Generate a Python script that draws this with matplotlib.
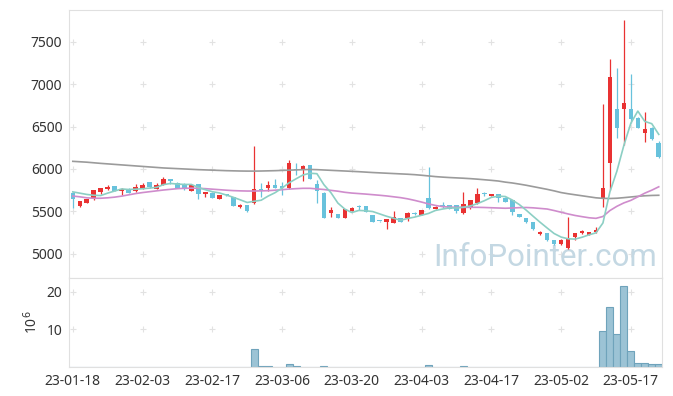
import numpy as np
import pandas as pd
import matplotlib
matplotlib.use('Agg')
import matplotlib.pyplot as plt

plt.rcParams['font.family'] = ['Noto Sans', 'DejaVu Sans']

# daily prices (index 0 = 23-01-18)
opens = [5720, 5566, 5600, 5660, 5725, 5765, 5796, 5744, 5767, 5740,
         5763, 5846, 5763, 5815, 5881, 5838, 5826, 5744, 5818, 5704,
         5720, 5649, 5695, 5669, 5555, 5574, 5595, 5755, 5778, 5810,
         5799, 5772, 5990, 5987, 6046, 5818, 5720, 5477, 5469, 5425,
         5508, 5550, 5565, 5457, 5388, 5378, 5366, 5418, 5418, 5485,
         5457, 5661, 5528, 5572, 5574, 5574, 5477, 5536, 5595, 5706,
         5685, 5700, 5661, 5633, 5469, 5418, 5371, 5229, 5241, 5162,
         5111, 5064, 5201, 5241, 5221, 5256, 5654, 6073, 6707, 6703,
         6707, 6604, 6427, 6486, 6302]
highs = [5730, 5625, 5650, 5755, 5775, 5807, 5800, 5770, 5770, 5822,
         5838, 5850, 5834, 5908, 5885, 5842, 5830, 5815, 5822, 5730,
         5725, 5692, 5700, 5672, 5582, 5578, 6270, 5838, 5862, 5878,
         5846, 6105, 6070, 6042, 6050, 5870, 5725, 5548, 5472, 5528,
         5548, 5570, 5568, 5460, 5392, 5410, 5508, 5422, 5488, 5490,
         5520, 6019, 5560, 5610, 5580, 5578, 5732, 5640, 5772, 5725,
         5708, 5705, 5665, 5640, 5472, 5422, 5375, 5265, 5245, 5168,
         5170, 5437, 5245, 5276, 5256, 5320, 6762, 7293, 7186, 7756,
         7119, 6610, 6675, 6500, 6330]
lows = [5540, 5555, 5595, 5640, 5704, 5752, 5740, 5690, 5715, 5725,
        5760, 5780, 5760, 5810, 5818, 5775, 5752, 5740, 5645, 5673,
        5655, 5645, 5680, 5560, 5540, 5489, 5590, 5665, 5744, 5775,
        5693, 5765, 5930, 5857, 5878, 5600, 5420, 5437, 5420, 5420,
        5505, 5520, 5494, 5375, 5380, 5288, 5362, 5375, 5386, 5460,
        5455, 5530, 5525, 5540, 5530, 5480, 5470, 5530, 5590, 5680,
        5680, 5614, 5610, 5457, 5430, 5365, 5285, 5222, 5155, 5100,
        5100, 5060, 5160, 5238, 5218, 5250, 5555, 5752, 6361, 6282,
        6538, 6480, 6314, 6340, 6130]
closes = [5645, 5620, 5645, 5752, 5772, 5788, 5744, 5767, 5720, 5788,
          5815, 5783, 5811, 5881, 5857, 5779, 5760, 5811, 5700, 5728,
          5661, 5689, 5688, 5566, 5578, 5504, 5760, 5750, 5810, 5779,
          5772, 6073, 5985, 6038, 5881, 5744, 5425, 5516, 5425, 5524,
          5545, 5546, 5497, 5378, 5384, 5406, 5430, 5378, 5485, 5465,
          5516, 5536, 5555, 5566, 5532, 5508, 5582, 5633, 5704, 5702,
          5704, 5653, 5614, 5497, 5437, 5371, 5292, 5260, 5162, 5111,
          5162, 5190, 5241, 5272, 5253, 5280, 5772, 7080, 6486, 6774,
          6585, 6486, 6471, 6353, 6144]
# volume in millions
volume = [0.1, 0.1, 0.1, 0.1, 0.1, 0.1, 0.1, 0.1, 0.1, 0.1,
          0.1, 0.1, 0.1, 0.1, 0.1, 0.1, 0.1, 0.1, 0.1, 0.1,
          0.1, 0.1, 0.1, 0.1, 0.1, 0.1, 4.8, 0.4, 0.4, 0.1,
          0.1, 0.7, 0.4, 0.1, 0.1, 0.1, 0.4, 0.1, 0.1, 0.1,
          0.1, 0.1, 0.1, 0.1, 0.1, 0.1, 0.1, 0.1, 0.1, 0.1,
          0.1, 0.6, 0.1, 0.1, 0.1, 0.1, 0.4, 0.1, 0.1, 0.1,
          0.1, 0.1, 0.1, 0.1, 0.1, 0.1, 0.1, 0.1, 0.1, 0.1,
          0.1, 0.1, 0.1, 0.1, 0.1, 0.1, 9.7, 16.1, 8.7, 21.5,
          4.2, 1.0, 1.2, 0.8, 0.8]

# moving averages (their history is not on the chart)
ma5_head = [5730, 5715, 5700, 5690]
ma20 = [5681, 5672, 5660, 5655, 5655, 5660, 5668, 5680, 5695, 5710,
        5722, 5732, 5742, 5752, 5760, 5768, 5772, 5774, 5772, 5768,
        5762, 5756, 5750, 5745, 5742, 5740, 5740, 5742, 5744, 5750,
        5756, 5763, 5768, 5772, 5772, 5765, 5758, 5748, 5738, 5725,
        5716, 5710, 5704, 5697, 5690, 5682, 5672, 5662, 5648, 5630,
        5610, 5588, 5570, 5556, 5550, 5548, 5548, 5548, 5548, 5546,
        5543, 5540, 5537, 5540, 5544, 5546, 5542, 5535, 5528, 5510,
        5490, 5470, 5452, 5438, 5425, 5418, 5440, 5510, 5560, 5600,
        5630, 5672, 5715, 5750, 5790]
ma120 = [6090, 6085, 6080, 6073, 6066, 6060, 6054, 6048, 6042, 6036,
         6030, 6024, 6018, 6012, 6008, 6004, 6000, 5996, 5992, 5989,
         5986, 5983, 5980, 5978, 5976, 5975, 5975, 5976, 5978, 5980,
         5983, 5986, 5989, 5992, 5994, 5992, 5988, 5984, 5980, 5976,
         5972, 5968, 5963, 5958, 5954, 5950, 5946, 5942, 5938, 5933,
         5926, 5918, 5910, 5904, 5899, 5895, 5891, 5886, 5880, 5873,
         5866, 5858, 5845, 5835, 5822, 5808, 5792, 5776, 5760, 5742,
         5722, 5708, 5696, 5684, 5672, 5660, 5654, 5652, 5655, 5662,
         5670, 5678, 5684, 5688, 5690]

tick_pos = [0, 10, 20, 30, 40, 50, 60, 70, 80]
tick_labels = ['23-01-18', '23-02-03', '23-02-17', '23-03-06', '23-03-20',
               '23-04-03', '23-04-17', '23-05-02', '23-05-17']
price_ticks = [5000, 5500, 6000, 6500, 7000, 7500]
vol_ticks = [10, 20]

o = np.array(opens)
h = np.array(highs)
l = np.array(lows)
c = np.array(closes)
x = np.arange(len(c))
ma5 = np.r_[ma5_head, pd.Series(c).rolling(5).mean().values[4:]]

up_col = '#e93232'
down_col = '#68c2dc'
cols = np.where(c >= o, up_col, down_col)

fig = plt.figure(figsize=(6.73, 3.96), dpi=100)
ax = fig.add_axes([0.103, 0.298, 0.881, 0.677])
ax2 = fig.add_axes([0.103, 0.073, 0.881, 0.225], sharex=ax)

ax.vlines(x, l, h, colors=cols, lw=0.9, zorder=2)
body = np.maximum(np.abs(c - o), 12)
ax.bar(x, body, bottom=np.minimum(o, c), width=0.65, color=cols, zorder=2)

ax.plot(x, ma120, color='#9b9b9b', lw=1.2, zorder=3)
ax.plot(x, ma20, color='#cf8ccc', lw=1.2, zorder=3)
ax.plot(x, ma5, color='#8ccfc4', lw=1.2, zorder=3)

ax2.bar(x, volume, width=1.0, color='#9cc3d5', edgecolor='#6fa3bb', lw=0.8)

# little "+" marks instead of grid lines
gx, gy = np.meshgrid(tick_pos, price_ticks)
ax.scatter(gx.ravel(), gy.ravel(), marker='+', s=14, color='#e2e2e2', lw=0.8, zorder=0)
gx, gy = np.meshgrid(tick_pos, vol_ticks)
ax2.scatter(gx.ravel(), gy.ravel(), marker='+', s=14, color='#e2e2e2', lw=0.8, zorder=0)

ax.text(0.992, 0.078, 'InfoPointer.com', transform=ax.transAxes, ha='right', va='center',
        fontsize=22.5, color='#c4d8e3', zorder=1, family=['Roboto', 'DejaVu Sans'])

ax.set_xlim(-0.5, 84.5)
ax.set_ylim(4715, 7875)
ax.set_yticks(price_ticks)
ax2.set_ylim(0, 23.7)
ax2.set_yticks(vol_ticks)
ax2.set_xticks(tick_pos)
ax2.set_xticklabels(tick_labels)
ax2.set_ylabel('10$^6$', fontsize=10, color='#333333', labelpad=4)
ax.tick_params(axis='x', labelbottom=False, length=0)

for a in (ax, ax2):
    a.tick_params(length=0, labelsize=10, labelcolor='#333333', pad=5)
    for s in a.spines.values():
        s.set_color('#e0e0e0')
        s.set_linewidth(0.8)

fig.savefig('out.png', dpi=100)
